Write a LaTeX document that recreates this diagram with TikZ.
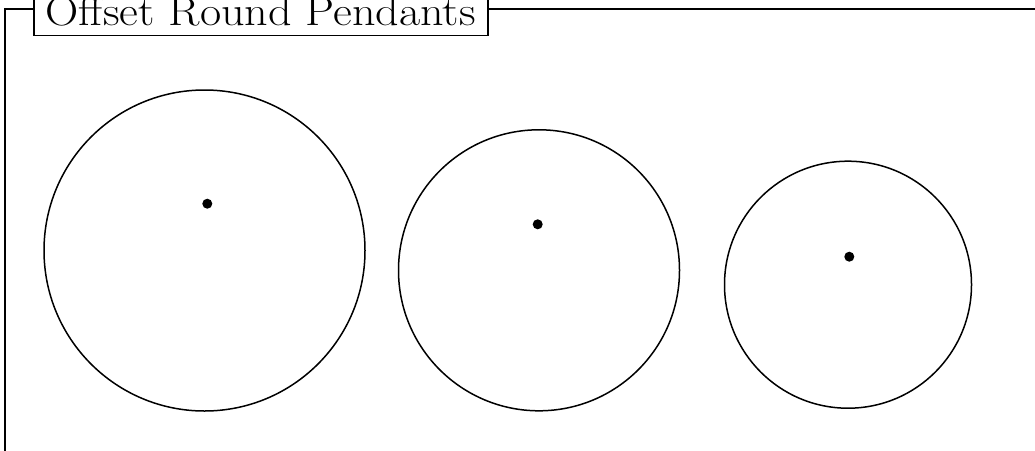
\documentclass[tikz,border=0pt]{standalone}
\usepackage{fontspec}
\begin{document}
\begin{tikzpicture}[x=1pt,y=-1pt,
  frameline/.style={line width=1.6pt, black},
  pendant/.style={circle, draw, line width=1.5pt, inner sep=0pt},
  pdot/.style={circle, fill=black, inner sep=0pt, minimum size=10pt},
  titlebox/.style={draw, line width=1.6pt, fill=white, inner xsep=12pt, inner ysep=10pt, anchor=base west, font=\fontsize{41}{48}\selectfont}]
\useasboundingbox (0,0) rectangle (1035,450);
\clip (0,0) rectangle (1035,450);
\fill[white] (0,0) rectangle (1035,450);
\coordinate (frbl) at (5,470);
\coordinate (frtl) at (5,9);
\coordinate (frtr) at (1050,9);
\draw[frameline] (frbl) -- (frtl) -- (frtr);
\node[titlebox] (title) at (33,25) {\resizebox{430pt}{!}{\scalebox{1}[0.8897]{Offset Round Pendants}}};
\node[pendant, minimum size=321pt] (p1) at (204.5,250.5) {};
\node[pendant, minimum size=281pt] (p2) at (539,270.3) {};
\node[pendant, minimum size=247pt] (p3) at (848,284.7) {};
\node[pdot] (d1) at (207.3,203.7) {};
\node[pdot] (d2) at (537.7,224.3) {};
\node[pdot] (d3) at (849.3,256.7) {};
\end{tikzpicture}
\end{document}
